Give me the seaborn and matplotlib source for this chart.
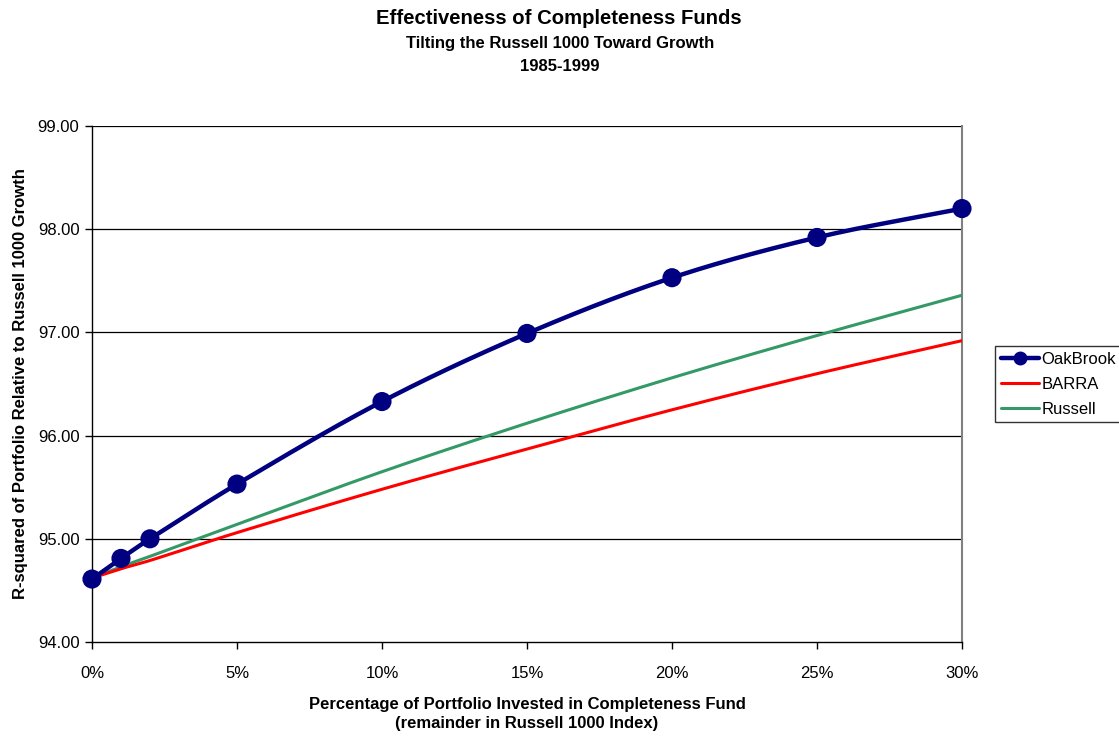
import numpy as np
import pandas as pd
import matplotlib
matplotlib.use("Agg")
import matplotlib.pyplot as plt
import seaborn as sns
from matplotlib.lines import Line2D
from matplotlib.ticker import FuncFormatter

# Percent of portfolio in the completeness fund
pct_invested = [0, 1, 2, 5, 10, 15, 20, 25, 30]

# R-squared relative to Russell 1000 Growth
oakbrook = [94.61, 94.81, 95.00, 95.53, 96.33, 96.99, 97.53, 97.92, 98.20]
barra = [94.62, 94.71, 94.79, 95.06, 95.48, 95.87, 96.25, 96.60, 96.92]
russell = [94.62, 94.73, 94.83, 95.14, 95.65, 96.12, 96.56, 96.97, 97.36]

series_names = ["OakBrook", "BARRA", "Russell"]
series_colors = {"OakBrook": "#000080", "BARRA": "#FF0000", "Russell": "#339966"}
series_widths = {"OakBrook": 3.2, "BARRA": 2.2, "Russell": 2.2}

y_ticks = [94, 95, 96, 97, 98, 99]
x_ticks = [0, 5, 10, 15, 20, 25, 30]


def smooth_curve(x, y, per_seg=40):
    """Cubic Hermite curve through the points (smoothed line style)."""
    x = np.asarray(x, float)
    y = np.asarray(y, float)
    n = len(x)
    m = np.zeros(n)
    for i in range(n):
        if i == 0:
            m[i] = (y[1] - y[0]) / (x[1] - x[0])
        elif i == n - 1:
            m[i] = (y[-1] - y[-2]) / (x[-1] - x[-2])
        else:
            m[i] = (y[i + 1] - y[i - 1]) / (x[i + 1] - x[i - 1])
    xs, ys = [], []
    for i in range(n - 1):
        h = x[i + 1] - x[i]
        t = np.linspace(0, 1, per_seg, endpoint=(i == n - 2))
        h00 = 2 * t**3 - 3 * t**2 + 1
        h10 = t**3 - 2 * t**2 + t
        h01 = -2 * t**3 + 3 * t**2
        h11 = t**3 - t**2
        xs.append(x[i] + t * h)
        ys.append(h00 * y[i] + h10 * h * m[i] + h01 * y[i + 1] + h11 * h * m[i + 1])
    return np.concatenate(xs), np.concatenate(ys)


sns.set_theme(style="white")
plt.rcParams["font.family"] = ["Liberation Sans", "DejaVu Sans"]
plt.rcParams["text.color"] = "#000000"
plt.rcParams["axes.labelcolor"] = "#000000"
plt.rcParams["xtick.color"] = "#000000"
plt.rcParams["ytick.color"] = "#000000"

fig = plt.figure(figsize=(11.19, 7.36), dpi=100)
ax = fig.add_axes([0.0822, 0.1277, 0.7775, 0.7011])

points = pd.DataFrame({
    "pct": pct_invested * 3,
    "r2": oakbrook + barra + russell,
    "series": sum([[s] * len(pct_invested) for s in series_names], []),
})

curves = []
for name, vals in zip(series_names, [oakbrook, barra, russell]):
    sx, sy = smooth_curve(pct_invested, vals)
    curves.append(pd.DataFrame({"pct": sx, "r2": sy, "series": name}))
curves = pd.concat(curves, ignore_index=True)

# gridlines under the data
for yv in y_ticks[1:]:
    ax.axhline(yv, color="#000000", lw=0.9, zorder=1)

# draw order: Russell, BARRA beneath OakBrook
for name in ["Russell", "BARRA", "OakBrook"]:
    sub = curves[curves["series"] == name]
    sns.lineplot(data=sub, x="pct", y="r2", color=series_colors[name],
                 lw=series_widths[name], ax=ax, sort=False,
                 estimator=None, legend=False, zorder=3)

ob = points[points["series"] == "OakBrook"]
sns.scatterplot(data=ob, x="pct", y="r2", color=series_colors["OakBrook"],
                s=190, edgecolor="none", ax=ax, legend=False, zorder=4,
                clip_on=False)

ax.set_xlim(0, 30)
ax.set_ylim(94, 99)
ax.set_xticks(x_ticks)
ax.set_yticks(y_ticks)
ax.xaxis.set_major_formatter(FuncFormatter(lambda v, p: f"{v:.0f}%"))
ax.yaxis.set_major_formatter(FuncFormatter(lambda v, p: f"{v:.2f}"))
ax.tick_params(axis="both", direction="out", length=5, width=1,
               color="#000000", labelsize=12, labelcolor="#000000")
ax.tick_params(axis="x", pad=12)
ax.tick_params(axis="y", pad=4)
ax.xaxis.set_ticks_position("bottom")
ax.yaxis.set_ticks_position("left")

for side in ["left", "bottom"]:
    ax.spines[side].set_color("#000000")
    ax.spines[side].set_linewidth(1)
ax.spines["right"].set_color("#808080")
ax.spines["right"].set_linewidth(1.5)
ax.spines["top"].set_visible(False)
ax.grid(False)

ax.set_xlabel("Percentage of Portfolio Invested in Completeness Fund\n(remainder in Russell 1000 Index)",
              fontsize=12, fontweight="bold", labelpad=12, linespacing=1.3)
ax.set_ylabel("R-squared of Portfolio Relative to Russell 1000 Growth",
              fontsize=12, fontweight="bold", labelpad=7)

fig.text(0.499, 0.975, "Effectiveness of Completeness Funds", ha="center",
         va="center", fontsize=14.6, fontweight="bold")
fig.text(0.501, 0.941, "Tilting the Russell 1000 Toward Growth", ha="center",
         va="center", fontsize=12, fontweight="bold")
fig.text(0.5, 0.909, "1985-1999", ha="center", va="center",
         fontsize=12, fontweight="bold")

handles = [
    Line2D([], [], color=series_colors["OakBrook"], lw=3.2, marker="o",
           markersize=9),
    Line2D([], [], color=series_colors["BARRA"], lw=2.2),
    Line2D([], [], color=series_colors["Russell"], lw=2.2),
]
leg = ax.legend(handles, series_names, loc="center left",
                bbox_to_anchor=(1.038, 0.5), frameon=True, fancybox=False,
                fontsize=12, handlelength=2.3, handletextpad=0.15,
                borderpad=0.35, labelspacing=0.6, borderaxespad=0)
leg.get_frame().set_edgecolor("#000000")
leg.get_frame().set_linewidth(1)

fig.savefig("out.png", dpi=100, facecolor="white")
